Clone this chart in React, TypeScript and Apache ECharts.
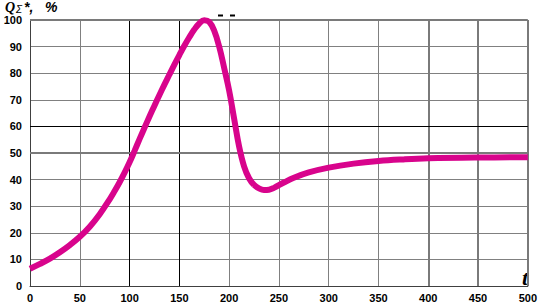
import React, { useEffect, useRef } from "react";
import * as echarts from "echarts";

const tValues = [0, 10, 20, 30, 40, 50, 60, 70, 80, 85, 90, 95, 100, 105, 110, 115, 120, 125, 130, 135, 140, 145, 150, 155, 160, 165, 170, 175, 180, 185, 190, 195, 200, 205, 210, 215, 220, 225, 230, 235, 240, 245, 255, 265, 280, 300, 325, 350, 375, 400, 450, 500];
const qValues = [6.5, 8.3, 10.3, 12.7, 15.4, 18.5, 22.3, 27, 32.6, 35.7, 39, 42.6, 46.5, 50.8, 55.2, 59.5, 63.7, 67.8, 71.8, 75.7, 79.5, 83.2, 86.8, 90.3, 93.5, 96.4, 98.7, 99.9, 99.3, 96, 90, 82, 73.5, 63, 52.5, 45, 40.5, 38, 36.7, 36.1, 36.2, 36.9, 38.9, 40.7, 42.7, 44.5, 46, 47, 47.6, 48, 48.3, 48.4];

const blackXLines = [100, 150];
const thickXLines = [400, 450, 500];
const blackYLines = [60];
const thickYLines = [50, 100];

const xTicks = { min: 0, max: 500, step: 50 };
const yTicks = { min: 0, max: 100, step: 10 };

export default function App() {
  const ref = useRef<HTMLDivElement>(null);
  useEffect(() => {
    document.body.style.margin = "0";
    const chart = echarts.init(ref.current!, undefined, { renderer: "svg" });
    const labelStyle = {
      fontFamily: "Liberation Sans, Arial, sans-serif",
      fontWeight: "bold" as const,
      fontSize: 11,
      color: "#000",
    };
    const markData: any[] = [];
    blackXLines.forEach((v) => markData.push({ xAxis: v, lineStyle: { color: "#000", width: 1, type: "solid" } }));
    thickXLines.forEach((v) => markData.push({ xAxis: v, lineStyle: { color: "#7a7a7a", width: 2, type: "solid" } }));
    blackYLines.forEach((v) => markData.push({ yAxis: v, lineStyle: { color: "#000", width: 1, type: "solid" } }));
    thickYLines.forEach((v) => markData.push({ yAxis: v, lineStyle: { color: "#7a7a7a", width: 2, type: "solid" } }));

    chart.setOption({
      animation: false,
      backgroundColor: "#fff",
      grid: { left: 30, right: 10, top: 20, bottom: 19 },
      xAxis: {
        type: "value",
        min: xTicks.min,
        max: xTicks.max,
        interval: xTicks.step,
        axisLine: { show: true, lineStyle: { color: "#404040", width: 1 } },
        axisTick: { show: false },
        axisLabel: { ...labelStyle, margin: 6 },
        splitLine: { show: true, lineStyle: { color: "#808080", width: 1 } },
      },
      yAxis: {
        type: "value",
        min: yTicks.min,
        max: yTicks.max,
        interval: yTicks.step,
        axisLine: { show: true, lineStyle: { color: "#404040", width: 1 } },
        axisTick: { show: false },
        axisLabel: { ...labelStyle, margin: 8 },
        splitLine: { show: true, lineStyle: { color: "#808080", width: 1 } },
      },
      graphic: [
        {
          type: "text",
          left: 5,
          top: 0,
          style: {
            text: "{q|Q}{s|Σ}{r|*,   %}",
            rich: {
              q: { fontFamily: "Liberation Serif, serif", fontStyle: "italic", fontWeight: "bold", fontSize: 14, fill: "#000" },
              s: { fontFamily: "Liberation Sans, sans-serif", fontStyle: "italic", fontSize: 10, fill: "#000", verticalAlign: "bottom", padding: [5, 2, 0, 1] },
              r: { fontFamily: "Liberation Sans, sans-serif", fontStyle: "italic", fontWeight: "bold", fontSize: 14, fill: "#000" },
            },
          },
        },
        {
          type: "text",
          left: 522,
          top: 266,
          style: {
            text: "t",
            fontFamily: "Liberation Serif, serif",
            fontStyle: "italic",
            fontWeight: "bold",
            fontSize: 22,
            fill: "#000",
          },
        },
        { type: "rect", shape: { x: 218, y: 14.5, width: 5, height: 2 }, style: { fill: "#000" } },
        { type: "rect", shape: { x: 230, y: 14.5, width: 5, height: 2 }, style: { fill: "#000" } },
      ],
      series: [
        {
          type: "line",
          data: [],
          silent: true,
          z: 1,
          markLine: { silent: true, symbol: "none", label: { show: false }, data: markData },
        },
        {
          type: "line",
          z: 5,
          data: tValues.map((t, i) => [t, qValues[i]]),
          smooth: 0.4,
          showSymbol: false,
          clip: false,
          lineStyle: { color: "#d8048c", width: 6 },
        },
      ],
    });
    return () => chart.dispose();
  }, []);
  return <div ref={ref} style={{ position: "fixed", left: 0, top: 0, width: 540, height: 305 }} />;
}
